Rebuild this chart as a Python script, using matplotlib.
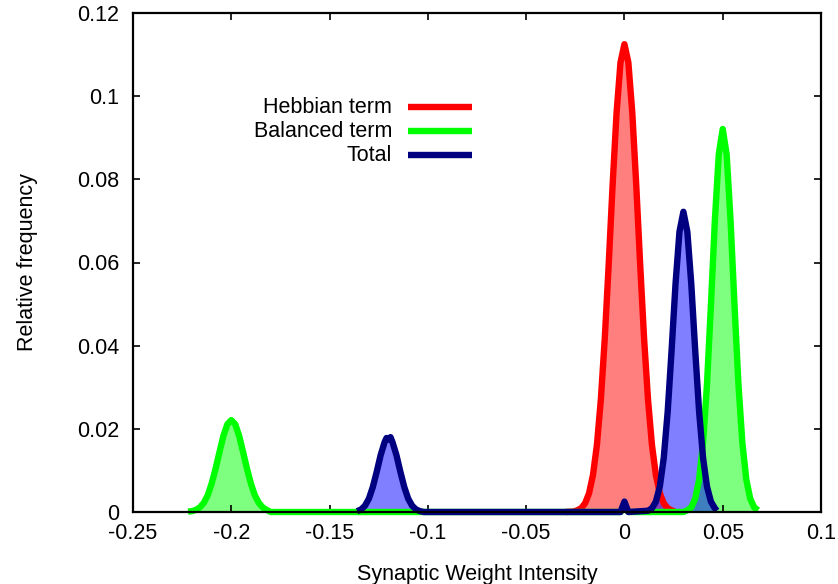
import matplotlib
matplotlib.use("Agg")
import matplotlib.pyplot as plt
from matplotlib.ticker import FuncFormatter

plt.rcParams['font.family'] = ['Liberation Sans', 'DejaVu Sans']
plt.rcParams['axes.unicode_minus'] = False

# Hebbian term (red)
hebb_x = [-0.030, -0.026, -0.024, -0.022, -0.020, -0.018, -0.016, -0.014, -0.012, -0.010,
          -0.008, -0.006, -0.004, -0.002, 0.000, 0.002, 0.004, 0.006, 0.008, 0.010,
          0.012, 0.014, 0.016, 0.018, 0.020, 0.022, 0.024, 0.026]
hebb_y = [0.0, 0.0001, 0.0004, 0.0009, 0.0021, 0.0045, 0.0089, 0.0161, 0.0270, 0.0417,
          0.0596, 0.0787, 0.0960, 0.1081, 0.1125, 0.1081, 0.0960, 0.0787, 0.0596, 0.0417,
          0.0270, 0.0161, 0.0089, 0.0045, 0.0021, 0.0009, 0.0004, 0.0]

# Balanced term (green)
bal_x = [-0.222, -0.220, -0.218, -0.216, -0.214, -0.212, -0.210, -0.208, -0.206, -0.204,
         -0.202, -0.200, -0.198, -0.196, -0.194, -0.192, -0.190, -0.188, -0.186, -0.184,
         -0.182, -0.180, -0.002, 0.000, 0.002, 0.030, 0.032, 0.034, 0.036, 0.038,
         0.040, 0.042, 0.044, 0.046, 0.048, 0.050, 0.052, 0.054, 0.056, 0.058,
         0.060, 0.062, 0.064, 0.066, 0.068]
bal_y = [0.0001, 0.0002, 0.0005, 0.0011, 0.0022, 0.0040, 0.0068, 0.0104, 0.0144, 0.0183,
         0.0211, 0.0221, 0.0211, 0.0183, 0.0144, 0.0104, 0.0068, 0.0040, 0.0022, 0.0011,
         0.0005, 0.0, 0.0, 0.0015, 0.0, 0.0, 0.0004, 0.0011, 0.0032, 0.0078,
         0.0166, 0.0307, 0.0497, 0.0700, 0.0860, 0.0921, 0.0860, 0.0700, 0.0497, 0.0307,
         0.0166, 0.0078, 0.0032, 0.0011, 0.0004]

# Total (navy)
tot_x = [-0.136, -0.134, -0.132, -0.130, -0.128, -0.126, -0.124, -0.122, -0.121, -0.120,
         -0.119, -0.118, -0.116, -0.114, -0.112, -0.110, -0.108, -0.106, -0.104, -0.102,
         -0.002, 0.000, 0.002, 0.012, 0.014, 0.016, 0.018, 0.020, 0.022, 0.024,
         0.026, 0.028, 0.030, 0.032, 0.034, 0.036, 0.038, 0.040, 0.042, 0.044,
         0.046, 0.047]
tot_y = [0.0002, 0.0006, 0.0015, 0.0032, 0.0060, 0.0097, 0.0137, 0.0168, 0.0178, 0.0174,
         0.0180, 0.0168, 0.0137, 0.0097, 0.0060, 0.0032, 0.0015, 0.0006, 0.0002, 0.0,
         0.0, 0.0025, 0.0, 0.0003, 0.0009, 0.0025, 0.0061, 0.0130, 0.0241, 0.0389,
         0.0549, 0.0674, 0.0722, 0.0674, 0.0549, 0.0389, 0.0241, 0.0130, 0.0061, 0.0025,
         0.0009, 0.0003]

# label, x, y, line colour, fill colour
series = [
    ("Hebbian term", hebb_x, hebb_y, "#ff0000", "#ff0000"),
    ("Balanced term", bal_x, bal_y, "#00ff00", "#00ff00"),
    ("Total", tot_x, tot_y, "#000080", "#0000ff"),
]

fs = 15.5
fig = plt.figure(figsize=(8.38, 5.84), dpi=100)
ax = fig.add_axes([133 / 838, 72 / 584, 688 / 838, 499 / 584])

for label, xs, ys, col, fcol in series:
    ax.fill_between(xs, ys, 0, color=fcol, alpha=0.5, lw=0)
    ax.plot(xs, ys, color=col, lw=4.6, clip_on=False,
            solid_joinstyle='round', solid_capstyle='butt')

ax.set_xlim(-0.25, 0.1)
ax.set_ylim(0, 0.12)
ax.set_xticks([-0.25, -0.2, -0.15, -0.1, -0.05, 0, 0.05, 0.1])
ax.set_yticks([0, 0.02, 0.04, 0.06, 0.08, 0.1, 0.12])
fmt = FuncFormatter(lambda v, p: "%g" % round(v, 4))
ax.xaxis.set_major_formatter(fmt)
ax.yaxis.set_major_formatter(fmt)
ax.tick_params(direction='in', length=5, width=1.2, top=True, right=True,
               labelsize=fs)
ax.tick_params(axis='x', pad=8)
ax.tick_params(axis='y', pad=10)
for s in ax.spines.values():
    s.set_linewidth(1.6)

ax.set_xlabel("Synaptic Weight Intensity", fontsize=fs, labelpad=14)
ax.set_ylabel("Relative frequency", fontsize=fs, labelpad=28)

# gnuplot-style key: right-aligned text, sample line after it
key_y = [0.8116, 0.7635, 0.7154]
for (label, xs, ys, col, fcol), ky in zip(series, key_y):
    ax.text(0.3765, ky, label, transform=ax.transAxes, ha='right', va='center',
            fontsize=fs)
    ax.plot([0.3997, 0.4927], [ky, ky], transform=ax.transAxes, color=col,
            lw=4.6, solid_capstyle='butt')

fig.savefig("out.png", dpi=100)
